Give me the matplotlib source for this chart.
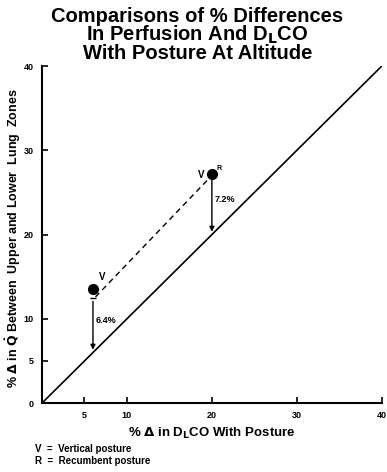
import matplotlib.pyplot as plt
import matplotlib
matplotlib.rcParams['font.family'] = ['Liberation Sans', 'DejaVu Sans']
matplotlib.rcParams['font.weight'] = 'bold'
matplotlib.rcParams['mathtext.default'] = 'bf'

# 데이터
posture_x = [6, 20]          # % delta DLCO
perfusion_y = [13.5, 27.2]   # % delta Q
arrow_top = [12.4, 27.2]
arrow_bottom = [6, 20]
diff_labels = ['6.4%', '7.2%']
x_ticks = [5, 10, 20, 30, 40]
y_ticks = [0, 5, 10, 20, 30, 40]

fig = plt.figure(figsize=(3.87, 4.72), dpi=100)
ax = fig.add_axes([0.1085, 0.146, 0.878, 0.714])

# 동일선
ax.plot([0, 40], [0, 40], color='black', lw=1.2)

# 점과 점선
ax.plot(posture_x, perfusion_y, 'o', color='black', ms=7)
ax.plot([posture_x[0] + 0.3, posture_x[1] - 0.4],
        [arrow_top[0] + 0.2, perfusion_y[1] - 0.6],
        color='black', lw=1, ls=(0, (4, 3)))

# 화살표
for x, top, bot, lab in zip(posture_x, arrow_top, arrow_bottom, diff_labels):
    ax.annotate('', xy=(x, bot), xytext=(x, top),
                arrowprops=dict(arrowstyle='-|>', color='black', lw=1, mutation_scale=7))
    ax.text(x + 0.3, (top + bot) / 2 + 0.6, lab, fontsize=6.5, fontweight='bold', va='center')

ax.plot([posture_x[0]], [perfusion_y[0] - 1.0], marker='_', color='black', ms=4)
ax.text(posture_x[0] + 0.7, perfusion_y[0] + 1.1, 'V', fontsize=7, fontweight='bold')
ax.text(posture_x[1] - 1.7, perfusion_y[1] - 0.5, 'V', fontsize=7, fontweight='bold')
ax.text(posture_x[1] + 0.6, perfusion_y[1] + 0.5, 'R', fontsize=5, fontweight='bold')

ax.set_xlim(0, 40)
ax.set_ylim(0, 40)
ax.set_xticks(x_ticks)
ax.set_yticks(y_ticks)
ax.tick_params(direction='in', length=4, width=1.2, labelsize=6.5, pad=6)
for lab in ax.get_xticklabels() + ax.get_yticklabels():
    lab.set_fontweight('bold')
ax.spines['top'].set_visible(False)
ax.spines['right'].set_visible(False)
ax.spines['left'].set_linewidth(1.5)
ax.spines['bottom'].set_linewidth(1.5)

ax.set_xlabel(r'% $\Delta$ in D$_\mathbf{L}$CO With Posture', fontsize=9.5, fontweight='bold', labelpad=4)
ax.set_ylabel(r'% $\Delta$ in $\dot{\mathbf{Q}}$ Between  Upper and Lower  Lung  Zones',
              fontsize=9, fontweight='bold')
ax.yaxis.set_label_coords(-0.055, 0.49)

fig.text(0.51, 0.985, 'Comparisons of % Differences\nIn Perfusion And D$_\\mathbf{L}$CO\nWith Posture At Altitude',
         ha='center', va='top', fontsize=14.5, fontweight='bold', linespacing=0.87)

fig.text(0.09, 0.036, 'V  =  Vertical posture\nR  =  Recumbent posture',
         fontsize=7, fontweight='bold', va='center', linespacing=1.25)

plt.savefig('out.png', dpi=100)
